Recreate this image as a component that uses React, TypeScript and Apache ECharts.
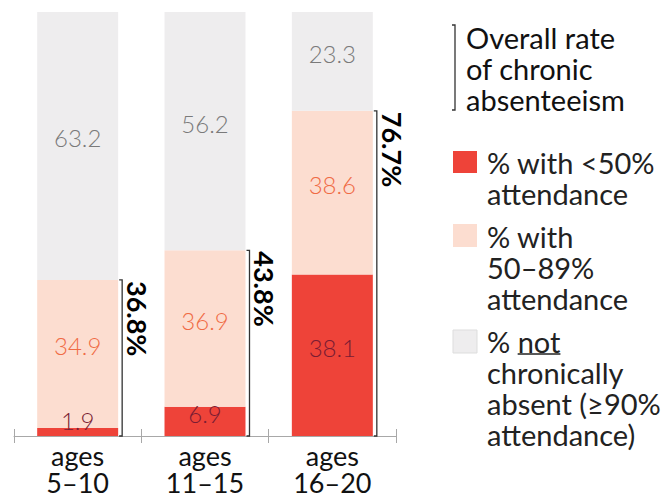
import React, { useEffect, useRef } from "react";
import * as echarts from "echarts";

const categories = ["ages\n5–10", "ages\n11–15", "ages\n16–20"];
const below50 = [1.9, 6.9, 38.1];
const from50to89 = [34.9, 36.9, 38.6];
const notChronic = [63.2, 56.2, 23.3];
const chronicTotals = [36.8, 43.8, 76.7];
const legendTitle = "Overall rate\nof chronic\nabsenteeism";
const legendItems = [
  "% with <50%\nattendance",
  "% with\n50–89%\nattendance",
  "% not\nchronically\nabsent (≥90%\nattendance)",
];

const RED = "#EE4339";
const SALMON = "#FCDDD0";
const GRAY = "#EEEDEE";
const LEGEND_FONT = "29px Lato";

function measure(text: string, font: string): number {
  const c = document.createElement("canvas").getContext("2d");
  if (!c) return text.length * 14;
  c.font = font;
  return c.measureText(text).width;
}

export default function App() {
  const ref = useRef<HTMLDivElement>(null);
  useEffect(() => {
    if (!ref.current) return;
    const chart = echarts.init(ref.current, undefined, { renderer: "svg" });
    const labelFont = { fontFamily: "Lato", fontWeight: 300 as any, fontSize: 24 };
    const mkLabel = (color: string) => ({
      show: true,
      position: "inside" as const,
      color,
      ...labelFont,
      offset: [0, -8],
      formatter: (p: any) => String(p.value),
    });
    const smallAware = (arr: number[], color: string) =>
      arr.map((v) =>
        v < 3
          ? { value: v, label: { show: true, position: "inside", offset: [0, -11], color, ...labelFont } }
          : v
      );
    const notLine = legendItems[2].split("\n")[0];
    const prefixW = measure(notLine.slice(0, notLine.indexOf("not")), LEGEND_FONT);
    const notW = measure("not", LEGEND_FONT);
    const catLabel = { color: "#111", fontFamily: "Lato", fontSize: 27, lineHeight: 27 };
    chart.setOption({
      animation: false,
      grid: { left: 14, right: 273, top: 12, bottom: 62, containLabel: false },
      xAxis: [
        {
          type: "category",
          data: categories,
          axisLine: { lineStyle: { color: "#A8A8A8", width: 1 } },
          axisTick: { show: true, length: 7, lineStyle: { color: "#A8A8A8" } },
          axisLabel: {
            ...catLabel,
            margin: 6,
            formatter: (v: string) => v.split("\n")[0],
          },
        },
        {
          type: "category",
          data: categories,
          position: "bottom",
          axisLine: { show: false },
          axisTick: { show: true, inside: true, length: 7, lineStyle: { color: "#A8A8A8" } },
          axisLabel: {
            ...catLabel,
            margin: 33,
            formatter: (v: string) => v.split("\n")[1],
          },
        },
      ],
      yAxis: { type: "value", min: 0, max: 100, show: false },
      series: [
        {
          name: "% with <50% attendance",
          type: "bar",
          stack: "s",
          barWidth: "63.6%",
          itemStyle: { color: RED },
          label: mkLabel("#7A1C33"),
          data: smallAware(below50, "#7A1C33"),
        },
        {
          name: "% with 50–89% attendance",
          type: "bar",
          stack: "s",
          itemStyle: { color: SALMON },
          label: mkLabel("#F06B45"),
          data: from50to89,
        },
        {
          name: "% not chronically absent",
          type: "bar",
          stack: "s",
          itemStyle: { color: GRAY },
          label: mkLabel("#7A7A7A"),
          data: notChronic,
        },
        {
          type: "custom",
          clip: false,
          z: 10,
          data: chronicTotals.map((t, i) => [i, t]),
          renderItem: (params: any, api: any) => {
            const idx = api.value(0);
            const total = api.value(1);
            const base = api.coord([idx, 0]);
            const top = api.coord([idx, total]);
            const band = api.size([1, 0])[0];
            const x = base[0] + band * 0.318 + 4;
            return {
              type: "group",
              children: [
                {
                  type: "polyline",
                  shape: {
                    points: [
                      [x - 3, top[1]],
                      [x, top[1]],
                      [x, base[1]],
                      [x - 3, base[1]],
                    ],
                  },
                  style: { stroke: "#333", lineWidth: 1.3, fill: null },
                },
                {
                  type: "text",
                  x: x + 2,
                  y: top[1] + 1,
                  rotation: -Math.PI / 2,
                  style: {
                    text: total.toFixed(1) + "%",
                    fill: "#000",
                    font: "bold 27px Lato",
                    align: "left",
                    verticalAlign: "bottom",
                    textAlign: "left",
                    textVerticalAlign: "bottom",
                  },
                },
              ],
            };
          },
        },
      ],
      graphic: [
        {
          type: "polyline",
          shape: { points: [[452, 25], [455, 25], [455, 110], [452, 110]] },
          style: { stroke: "#333", lineWidth: 1.3, fill: null },
        },
        {
          type: "text",
          left: 466,
          top: 22,
          style: { text: legendTitle, font: LEGEND_FONT, fill: "#111", lineHeight: 31 },
        },
        { type: "rect", shape: { x: 453, y: 151, width: 24, height: 22 }, style: { fill: RED } },
        { type: "rect", shape: { x: 453, y: 224, width: 24, height: 23 }, style: { fill: SALMON } },
        {
          type: "rect",
          shape: { x: 453, y: 330, width: 24, height: 23 },
          style: { fill: GRAY, stroke: "#DDDDDD", lineWidth: 1 },
        },
        {
          type: "text",
          left: 487,
          top: 147,
          style: { text: legendItems[0], font: LEGEND_FONT, fill: "#222", lineHeight: 31 },
        },
        {
          type: "text",
          left: 487,
          top: 221,
          style: { text: legendItems[1], font: LEGEND_FONT, fill: "#222", lineHeight: 31 },
        },
        {
          type: "text",
          left: 487,
          top: 326,
          style: { text: legendItems[2], font: LEGEND_FONT, fill: "#222", lineHeight: 31 },
        },
        {
          type: "line",
          shape: { x1: 487 + prefixW, y1: 354, x2: 487 + prefixW + notW, y2: 354 },
          style: { stroke: "#222", lineWidth: 1.5 },
        },
      ],
    });
    return () => chart.dispose();
  }, []);
  return (
    <div
      ref={ref}
      style={{ position: "absolute", left: 0, top: 0, width: 669, height: 498 }}
    />
  );
}
